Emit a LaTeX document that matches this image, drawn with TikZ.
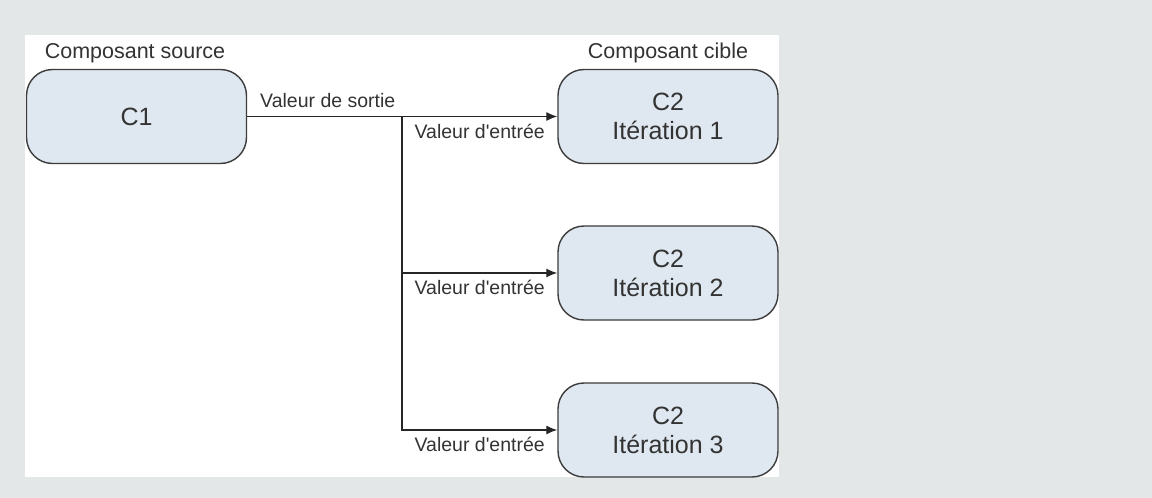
\documentclass[tikz,border=0pt]{standalone}
\usepackage{fontspec}
\setmainfont{Liberation Sans}[Ligatures=TeXOff]
\usetikzlibrary{arrows.meta,positioning}
\definecolor{pagegray}{HTML}{E3E7E8}
\definecolor{boxfill}{HTML}{DFE7F0}
\definecolor{boxline}{HTML}{3C3C3C}
\definecolor{inktext}{HTML}{333333}

\begin{document}
\begin{tikzpicture}[x=1pt, y=-1pt,
    comp/.style={draw=boxline, line width=1.4pt, fill=boxfill, rounded corners=26pt,
      minimum width=220pt, minimum height=94pt, align=center, text=inktext,
      font=\fontsize{25}{29}\selectfont},
    heading/.style={anchor=base, inner sep=0pt, text=inktext, font=\fontsize{21.5}{24}\selectfont},
    flowlabel/.style={inner sep=0pt, text=inktext, font=\fontsize{19.5}{22}\selectfont},
    link/.style={draw=black!85, line width=1.3pt},
    flow/.style={link, -{Latex[length=11pt,width=9pt]}}]
    % page and white sheet
    \fill[pagegray] (0,0) rectangle (1152,498);
    \fill[white] (25,35) rectangle (779,477);
    \useasboundingbox (0,0) rectangle (1152,498);
    % source
    \node[heading] (srclab) at (135,58) {Composant source};
    \node[comp] (c1) at (136.5,116.5) {C1};
    \node[heading] (tgtlab) at (668,58) {Composant cible};
    \coordinate (split) at (402,116.5);
    \draw[link] (c1.east) -- (split);
    \node[flowlabel, anchor=base west] (outlab) at (260,107) {Valeur de sortie};
    % targets
    \foreach \iter/\y in {1/116.5,2/273,3/430} {
      \node[comp] (c2-\iter) at (668,\y) {C2\\Itération \iter};
      \draw[flow] (split) |- (c2-\iter.west);
      \node[flowlabel, anchor=base east] (in-\iter) at (545,\y+21.5) {Valeur d'entrée};
    }
\end{tikzpicture}
\end{document}
